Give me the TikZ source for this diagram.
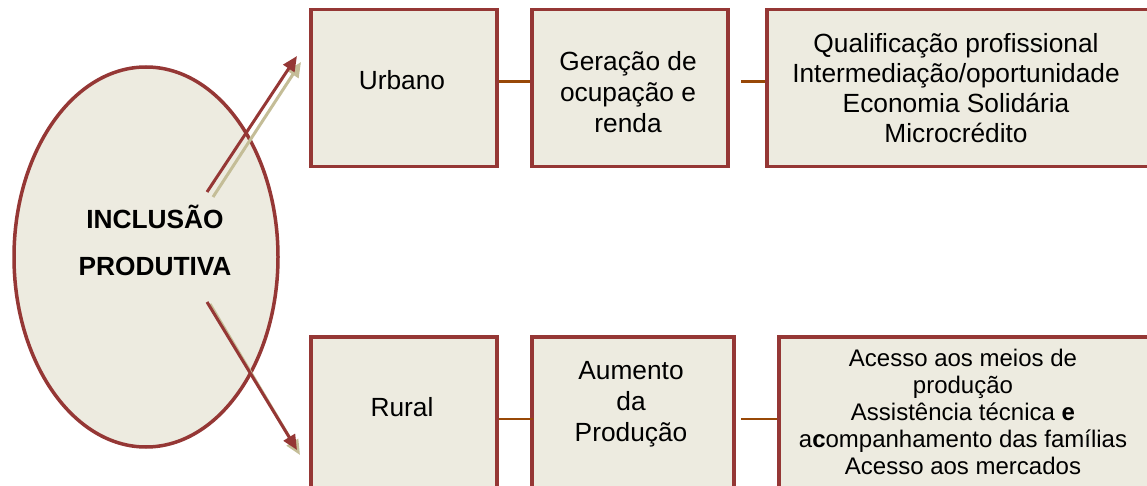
\documentclass[tikz,border=0pt]{standalone}
\usepackage{fontspec}
\setmainfont{Liberation Sans}
\usetikzlibrary{shapes.geometric,arrows.meta}
\definecolor{bord}{HTML}{953735}
\definecolor{fillc}{HTML}{EDEBE0}
\definecolor{shad}{HTML}{C4BD97}
\definecolor{conn}{HTML}{984807}
\begin{document}
\begin{tikzpicture}[x=1pt,y=-1pt,
  box/.style={draw=bord, fill=fillc, line width=3.5pt, rectangle, inner sep=0pt, anchor=north west},
  bigtxt/.style={font=\fontsize{26.3}{31}\selectfont, align=center, inner sep=0pt},
  smalltxt/.style={font=\fontsize{24}{27}\selectfont, align=center, inner sep=0pt},
  connline/.style={draw=conn, line width=2.5pt},
  redarrow/.style={draw=bord, line width=3pt, -{Triangle[length=15pt,width=13pt]}},
  shadarrow/.style={draw=shad, line width=3pt, -{Triangle[length=15pt,width=13pt]}}
]
\clip (0,0) rectangle (1147,486);
\fill[white] (0,0) rectangle (1147,486);

% ellipse
\node[ellipse, draw=bord, fill=fillc, line width=3.5pt, minimum width=264pt, minimum height=380pt, inner sep=0pt] (inc) at (146,257) {};
\node[font=\bfseries\fontsize{26.3}{47}\selectfont, align=center, inner sep=0pt] (inct) at (155,240) {INCLUSÃO\\PRODUTIVA};

% boxes
\node[box, minimum width=186pt, minimum height=157pt] (urb) at (309,8) {};
\node[box, minimum width=196pt, minimum height=157pt] (ger) at (530,8) {};
\node[box, minimum width=420pt, minimum height=157pt] (qua) at (765,8) {};
\node[box, minimum width=186pt, minimum height=200pt] (rur) at (309,335) {};
\node[box, minimum width=202pt, minimum height=200pt] (aum) at (530,335) {};
\node[box, minimum width=420pt, minimum height=200pt] (ace) at (777,335) {};

% texts
\node[bigtxt] (urbt) at (402,80) {Urbano};
\node[bigtxt] (gert) at (628,92) {Geração de\\ocupação e\\renda};
\node[bigtxt, font=\fontsize{26.3}{30}\selectfont] (quat) at (956,88) {Qualificação profissional\\Intermediação/oportunidade\\Economia Solidária\\Microcrédito};
\node[bigtxt] (rurt) at (402,407) {Rural};
\node[bigtxt] (aumt) at (631,404) {Aumento\\da\\Produção};
\node[smalltxt] (acet) at (963,412) {Acesso aos meios de\\produção\\Assistência técnica \textbf{e}\\a\textbf{c}ompanhamento das famílias\\Acesso aos mercados};

% connectors
\draw[connline] ([yshift=6.5pt]urb.east) -- ([yshift=6.5pt]ger.west);
\draw[connline] ([xshift=-24pt,yshift=6.5pt]qua.west) -- ([yshift=6.5pt]qua.west);
\draw[connline] ([yshift=18pt]rur.east) -- ([xshift=3pt,yshift=18pt]aum.west);
\draw[connline] ([xshift=-36pt,yshift=18pt]ace.west) -- ([yshift=18pt]ace.west);

% arrows
\coordinate (s1a) at (213,197);
\coordinate (s1b) at (301,62);
\coordinate (r1a) at (207,192);
\coordinate (r1b) at (297,56);
\coordinate (s2a) at (210,304);
\coordinate (s2b) at (300,455);
\coordinate (r2a) at (207,302);
\coordinate (r2b) at (297,450);
\draw[shadarrow] (s1a) -- (s1b);
\draw[redarrow] (r1a) -- (r1b);
\draw[shadarrow] (s2a) -- (s2b);
\draw[redarrow] (r2a) -- (r2b);
\end{tikzpicture}
\end{document}
